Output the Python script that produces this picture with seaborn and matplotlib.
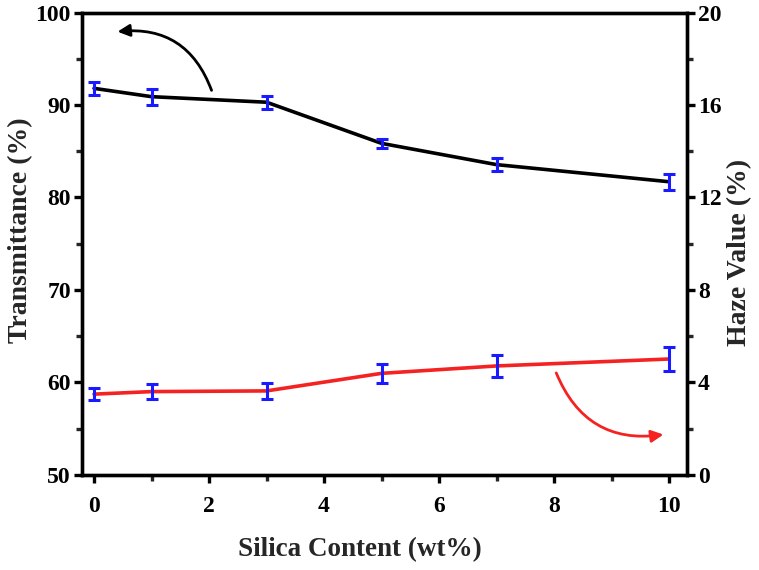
import matplotlib
matplotlib.use("Agg")
import matplotlib.pyplot as plt
import seaborn as sns
import pandas as pd

silica = [0, 1, 3, 5, 7, 10]
transmittance = [91.8, 90.9, 90.3, 85.85, 83.55, 81.7]
trans_err = [0.7, 0.85, 0.7, 0.5, 0.7, 0.88]
haze = [3.49, 3.6, 3.63, 4.39, 4.71, 5.01]
haze_err = [0.27, 0.31, 0.34, 0.4, 0.47, 0.52]

sns.set_style("ticks")
plt.rcParams['font.family'] = ['Liberation Serif', 'DejaVu Serif']
plt.rcParams['font.weight'] = 'bold'
plt.rcParams['axes.labelweight'] = 'bold'

df = pd.DataFrame({"silica": silica, "trans": transmittance, "haze": haze})

fig = plt.figure(figsize=(7.59, 5.70), dpi=100)
ax = fig.add_axes([0.108, 0.167, 0.797, 0.811])
ax2 = ax.twinx()

blue = "#1a1aff"
red = "#f52222"

sns.lineplot(data=df, x="silica", y="trans", ax=ax, color="black", lw=2.6, zorder=3)
ax.errorbar(silica, transmittance, yerr=trans_err, fmt="none", ecolor=blue,
            elinewidth=2.2, capsize=4, capthick=2.2, zorder=4)

sns.lineplot(data=df, x="silica", y="haze", ax=ax2, color=red, lw=2.6, zorder=3)
ax2.errorbar(silica, haze, yerr=haze_err, fmt="none", ecolor=blue,
             elinewidth=2.2, capsize=4, capthick=2.2, zorder=4)

ax.set_xlim(-0.21, 10.31)
ax.set_ylim(50, 100)
ax2.set_ylim(0, 20)

ax.set_xticks([0, 2, 4, 6, 8, 10])
ax.set_xticks([1, 3, 5, 7, 9], minor=True)
ax.set_yticks([50, 60, 70, 80, 90, 100])
ax.set_yticks([55, 65, 75, 85, 95], minor=True)
ax2.set_yticks([0, 4, 8, 12, 16, 20])
ax2.set_yticks([2, 6, 10, 14, 18], minor=True)

for a in (ax, ax2):
    for s in a.spines.values():
        s.set_linewidth(2.4)
        s.set_color("black")
    a.tick_params(which="major", length=6, width=2.4, labelsize=17, colors="black", pad=2)
    a.tick_params(which="minor", length=4, width=2.4)
ax.tick_params(axis="x", which="major", pad=9)

for lbl in ax.get_xticklabels() + ax.get_yticklabels() + ax2.get_yticklabels():
    lbl.set_fontweight("bold")

ax.set_xlabel("Silica Content (wt%)", fontsize=19.5, fontweight="bold")
ax.set_ylabel("Transmittance (%)", fontsize=20, fontweight="bold")
ax2.set_ylabel("Haze Value (%)", fontsize=20, fontweight="bold")
ax.xaxis.set_label_coords(0.46, -0.134)
ax.yaxis.set_label_coords(-0.081, 0.53)
ax2.yaxis.set_label_coords(1.066, 0.48)

ax.annotate("", xy=(0.36, 97.9), xytext=(2.06, 91.3),
            arrowprops=dict(arrowstyle="-|>", color="black", lw=2.0,
                            connectionstyle="arc3,rad=0.4", mutation_scale=18))
ax.annotate("", xy=(9.95, 54.4), xytext=(8.02, 61.3),
            arrowprops=dict(arrowstyle="-|>", color=red, lw=2.0,
                            connectionstyle="arc3,rad=0.4", mutation_scale=18))

fig.savefig("out.png", dpi=100)
